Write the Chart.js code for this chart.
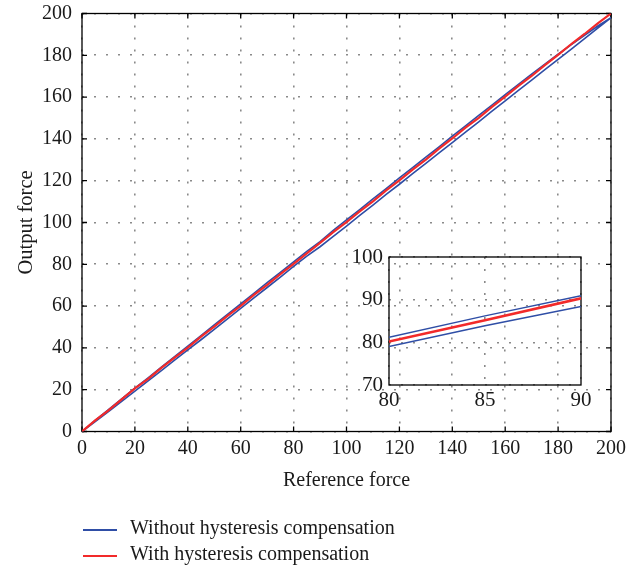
<!DOCTYPE html>
<html><head><meta charset="utf-8">
<script src="https://cdn.jsdelivr.net/npm/chart.js@4.4.1/dist/chart.umd.min.js"></script>
<style>
html,body{margin:0;padding:0;background:#fff;}
#wrap{position:relative;width:644px;height:569px;overflow:hidden;background:#fff;}
#main{position:absolute;left:0;top:0;}
#inset{position:absolute;left:340px;top:240px;}
.leg{position:absolute;left:83px;height:24px;width:400px;font-family:"Liberation Serif","DejaVu Serif",serif;font-size:20px;line-height:20px;color:#1a1a1a;white-space:nowrap;}
.leg .ln{position:absolute;left:0;top:12px;width:34px;height:1.6px;display:block;}
.leg .tx{position:absolute;left:47px;top:0;}
</style></head>
<body>
<div id="wrap">
<canvas id="main" width="644" height="569"></canvas>
<canvas id="inset" width="260" height="180"></canvas>
<div class="leg" style="top:517px"><div class="ln" style="background:#2f4ea6"></div><span class="tx" id="lg0"></span></div>
<div class="leg" style="top:543px"><div class="ln" style="background:#f22a2a"></div><span class="tx" id="lg1"></span></div>
</div>
<script>
// ---- data ----
const forceX = [0,5,10,15,20,25,30,35,40,45,50,55,60,65,70,75,80,85,90,95,100,105,110,115,120,125,130,135,140,145,150,155,160,165,170,175,180,185,190,195,200];
const withComp = [0,5.3,10.1,15.4,20.6,25.2,30.4,35.3,40.1,45.4,50.2,55.3,60.1,65.4,70.2,75.3,80.2,85.2,90.3,95.4,100.2,105.3,110.1,115.4,120.2,125.3,130.1,135.3,140.2,145.4,150.1,155.3,160.2,165.4,170.1,175.3,180.2,185.4,190.2,195.3,200];
const withoutLoading = [0,4.7,9.5,14.4,19.3,24.2,29.1,34.1,39.0,43.9,48.9,53.9,58.9,63.9,68.9,73.9,79.0,83.9,88.4,93.4,98.3,103.4,108.3,113.4,118.3,123.4,128.3,133.3,138.2,143.3,148.2,153.3,158.2,163.2,168.1,173.1,178.1,183.0,188.0,193.0,198.0];
const withoutUnloading = [0,5.3,10.5,15.6,20.8,25.7,30.8,35.8,40.9,45.9,51.0,56.0,61.1,66.1,71.2,76.1,81.2,86.2,90.9,96.2,101.3,106.2,111.3,116.2,121.3,126.2,131.3,136.2,141.3,146.2,151.3,156.2,161.2,166.1,171.0,175.8,180.5,185.1,189.6,194.0,198.0];
const seriesNames = ["Without hysteresis compensation","With hysteresis compensation"];
const mainTicks = [0,20,40,60,80,100,120,140,160,180,200];
const insetXTicks = [80,85,90];
const insetYTicks = [70,80,90,100];
const xTitle = "Reference force";
const yTitle = "Output force";

document.getElementById('lg0').textContent = seriesNames[0];
document.getElementById('lg1').textContent = seriesNames[1];

const FONT = '"Liberation Serif", "DejaVu Serif", serif';
Chart.defaults.font.family = FONT;
Chart.defaults.color = '#1a1a1a';

const BLUE = '#2f4ea6', RED = '#f22a2a';

function redData(){ return forceX.map((x,i)=>({x:x,y:withComp[i]})); }
function blueData(){
  const up = forceX.map((x,i)=>({x:x,y:withoutLoading[i]}));
  const down = forceX.map((x,i)=>({x:x,y:withoutUnloading[i]})).reverse();
  return up.concat(down);
}

const framePlugin = {
  id:'frame',
  beforeDatasetsDraw(chart, args, opts){
    const {ctx, chartArea:a, scales} = chart;
    const x = scales.x, y = scales.y;
    ctx.save();
    ctx.strokeStyle = '#000';
    ctx.lineWidth = opts.lw;
    ctx.strokeRect(a.left, a.top, a.right-a.left, a.bottom-a.top);
    const L = opts.tick;
    if (L > 0) {
      ctx.beginPath();
      x.ticks.forEach(t=>{
        const px = x.getPixelForValue(t.value);
        ctx.moveTo(px,a.bottom); ctx.lineTo(px,a.bottom-L);
        ctx.moveTo(px,a.top); ctx.lineTo(px,a.top+L);
      });
      y.ticks.forEach(t=>{
        const py = y.getPixelForValue(t.value);
        ctx.moveTo(a.left,py); ctx.lineTo(a.left+L,py);
        ctx.moveTo(a.right,py); ctx.lineTo(a.right-L,py);
      });
      ctx.stroke();
    }
    ctx.restore();
  }
};

function ticksFrom(list){
  return function(scale){ scale.ticks = list.map(v=>({value:v})); };
}
function fixW(w){ return s=>{ s.width=w; s.paddingTop=0; s.paddingBottom=0; }; }
function fixH(h){ return s=>{ s.height=h; s.paddingLeft=0; s.paddingRight=0; }; }

new Chart(document.getElementById('main'), {
  type:'scatter',
  data:{datasets:[
    {label:seriesNames[1], data:redData(), showLine:true, borderColor:RED, borderWidth:2.2, pointRadius:0, tension:0},
    {label:seriesNames[0], data:blueData(), showLine:true, borderColor:BLUE, borderWidth:1.6, pointRadius:0, tension:0}
  ]},
  options:{
    responsive:false, animation:false, events:[],
    layout:{padding:{left:0,right:33,top:13.5,bottom:69.5}},
    plugins:{legend:{display:false}, tooltip:{enabled:false}, frame:{lw:1.3, tick:5}},
    scales:{
      x:{type:'linear', min:0, max:200,
         afterFit:fixH(68),
         afterBuildTicks:ticksFrom(mainTicks),
         grid:{color:'#8a8a8a', lineWidth:1.6, drawTicks:false},
         border:{display:false, dash:[2,10]},
         ticks:{padding:5.5, font:{size:20}, color:'#1a1a1a', maxRotation:0, autoSkip:false},
         title:{display:true, text:xTitle, font:{size:20}, color:'#1a1a1a', padding:{top:4,bottom:6.5}}
      },
      y:{type:'linear', min:0, max:200,
         afterFit:fixW(82),
         afterBuildTicks:ticksFrom(mainTicks),
         grid:{color:'#8a8a8a', lineWidth:1.6, drawTicks:false},
         border:{display:false, dash:[2,10]},
         ticks:{padding:10, font:{size:20}, color:'#1a1a1a', autoSkip:false},
         title:{display:true, text:yTitle, font:{size:20.5}, color:'#1a1a1a', padding:{top:14.5,bottom:4}}
      }
    }
  },
  plugins:[framePlugin]
});

new Chart(document.getElementById('inset'), {
  type:'scatter',
  data:{datasets:[
    {label:seriesNames[1], data:redData(), showLine:true, borderColor:RED, borderWidth:2.6, pointRadius:0, tension:0},
    {label:seriesNames[0], data:blueData(), showLine:true, borderColor:BLUE, borderWidth:1.5, pointRadius:0, tension:0}
  ]},
  options:{
    responsive:false, animation:false, events:[],
    layout:{padding:{left:0,right:19,top:17,bottom:0}},
    plugins:{legend:{display:false}, tooltip:{enabled:false}, frame:{lw:1.3, tick:0}},
    scales:{
      x:{type:'linear', min:80, max:90,
         afterFit:fixH(35),
         afterBuildTicks:ticksFrom(insetXTicks),
         grid:{color:'#8a8a8a', lineWidth:1.6, drawTicks:false},
         border:{display:false, dash:[2,10]},
         ticks:{padding:3, font:{size:21}, color:'#1a1a1a', maxRotation:0, autoSkip:false}
      },
      y:{type:'linear', min:70, max:100,
         afterFit:fixW(49),
         afterBuildTicks:ticksFrom(insetYTicks),
         grid:{color:'#8a8a8a', lineWidth:1.6, drawTicks:false},
         border:{display:false, dash:[2,10]},
         ticks:{padding:6, font:{size:21}, color:'#1a1a1a', autoSkip:false}
      }
    }
  },
  plugins:[framePlugin]
});
</script>
</body></html>
